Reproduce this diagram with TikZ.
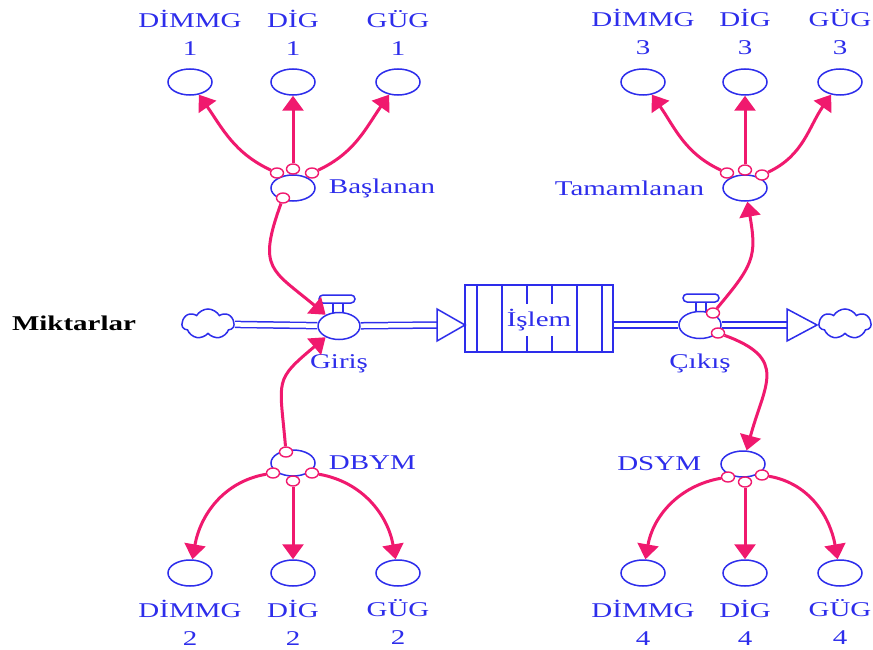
\documentclass[tikz,border=0pt]{standalone}
\usepackage{fontspec}
\setmainfont{Liberation Serif}[FakeStretch=1.38]
\usepackage{tikz}
\usetikzlibrary{arrows.meta}
\usetikzlibrary{positioning}
\usetikzlibrary{shapes.geometric}
\usetikzlibrary{shapes.symbols}

\definecolor{vblue}{RGB}{45,45,235}
\definecolor{vpink}{RGB}{240,25,110}

\tikzset{
  aux/.style={ellipse, draw=vblue, line width=1.5pt, minimum width=44pt, minimum height=26pt, inner sep=0pt},
  hook/.style={ellipse, draw=vpink, fill=white, line width=1.4pt, minimum width=13pt, minimum height=10pt, inner sep=0pt},
  lbl/.style={text=vblue, font=\fontsize{21}{28}\selectfont, inner sep=1pt, align=center},
  link/.style={draw=vpink, line width=3pt, -{Triangle[length=15pt,width=21pt]}},
  pipe/.style={draw=vblue, line width=1.5pt, double=white, double distance=4.5pt},
  flowtip/.style={draw=vblue, fill=white, line width=1.5pt},
  cloudy/.style={cloud, cloud puffs=7, cloud puff arc=120, aspect=1.7, draw=vblue, fill=white, line width=1.5pt, minimum width=52pt, minimum height=30pt, inner sep=0pt},
  valve/.style={ellipse, draw=vblue, fill=white, line width=1.5pt, minimum width=42pt, minimum height=27pt, inner sep=0pt},
  valvebar/.style={rectangle, rounded corners=4pt, draw=vblue, fill=white, line width=1.5pt, minimum width=36pt, minimum height=8pt, inner sep=0pt},
}

\begin{document}
\begin{tikzpicture}[x=1pt,y=1pt]
  \useasboundingbox (0,0) rectangle (873,-650);

  % stock and flow
  \node[lbl, font=\fontsize{21}{28}\selectfont\bfseries, text=black] (mik) at (74,-323) {Miktarlar};
  \node[cloudy] (cloudin) at (208,-324) {};
  \node[cloudy] (cloudout) at (845,-324) {};
  \node[draw=vblue, line width=1.6pt, minimum width=148pt, minimum height=67pt, inner sep=0pt] (stock) at (539,-318.5) {};
  \foreach \x in {477,502,527,552,577,602}
    \draw[vblue, line width=1.5pt] (\x,-285) -- (\x,-352);
  \node[lbl, fill=white, inner xsep=0pt, minimum height=32pt] (islem) at (539,-320) {İşlem};

  \coordinate (intip) at (437,-325);
  \coordinate (outtip) at (787,-325);
  \draw[vblue, line width=1.4pt] (333,-303) rectangle (343,-313);
  \draw[vblue, line width=1.4pt] (696,-302) rectangle (706,-312);
  \node[valve] (giris) at (339,-326) {};
  \node[valvebar] (girisbar) at (337,-299) {};
  \node[valve] (cikis) at (700,-325) {};
  \node[valvebar] (cikisbar) at (701,-298) {};
  \draw[pipe] (cloudin) -- (giris);
  \draw[pipe] (giris) -- (intip);
  \draw[flowtip] (intip) -- ++(0,16) -- ++(28,-16) -- ++(-28,-16) -- cycle;
  \draw[pipe] (stock.east |- cikis) -- (cikis);
  \draw[pipe] (cikis) -- (outtip);
  \draw[flowtip] (outtip) -- ++(0,16) -- ++(30,-16) -- ++(-30,-16) -- cycle;
  \node[lbl, below=13pt of giris] (girisl) {Giriş};
  \node[lbl, below=13pt of cikis] (cikisl) {Çıkış};

  % auxiliaries
  \node[aux] (dimmg1) at (190,-82) {};
  \node[aux] (dig1) at (293,-82) {};
  \node[aux] (gug1) at (398,-82) {};
  \node[aux] (dimmg3) at (643,-82) {};
  \node[aux] (dig3) at (745,-82) {};
  \node[aux] (gug3) at (840,-82) {};
  \node[aux] (dimmg2) at (190,-573) {};
  \node[aux] (dig2) at (293,-573) {};
  \node[aux] (gug2) at (398,-573) {};
  \node[aux] (dimmg4) at (643,-573) {};
  \node[aux] (dig4) at (745,-573) {};
  \node[aux] (gug4) at (840,-573) {};
  \foreach \k in {1,3} {
    \node[lbl, above=12pt of dimmg\k] (dimmgl\k) {DİMMG\\\k};
    \node[lbl, above=12pt of dig\k] (digl\k) {DİG\\\k};
    \node[lbl, above=12pt of gug\k] (gugl\k) {GÜG\\\k};
  }
  \foreach \k in {2,4} {
    \node[lbl, below=12pt of dimmg\k] (dimmgl\k) {DİMMG\\\k};
    \node[lbl, below=12pt of dig\k] (digl\k) {DİG\\\k};
    \node[lbl, below=12pt of gug\k] (gugl\k) {GÜG\\\k};
  }

  \node[aux] (bas) at (293,-188) {};
  \node[aux] (tam) at (745,-188) {};
  \node[aux] (dbym) at (293,-463) {};
  \node[aux] (dsym) at (743,-464) {};
  \node[lbl, right=12pt of bas] (basl) {Başlanan};
  \node[lbl, left=17pt of tam] (taml) {Tamamlanan};
  \node[lbl, right=12pt of dbym] (dbyml) {DBYM};
  \node[lbl, left=18pt of dsym] (dsyml) {DSYM};

  % connector tails
  \node[hook] (bash1) at (277,-173) {};
  \node[hook] (bash2) at (293,-169) {};
  \node[hook] (bash3) at (312,-173) {};
  \node[hook] (bash4) at (283,-198) {};
  \node[hook] (dbh1) at (273,-473) {};
  \node[hook] (dbh2) at (293,-481) {};
  \node[hook] (dbh3) at (312,-473) {};
  \node[hook] (dbh4) at (286,-452) {};
  \node[hook] (tah1) at (727,-173) {};
  \node[hook] (tah2) at (745,-170) {};
  \node[hook] (tah3) at (762,-175) {};
  \node[hook] (dsh1) at (728,-477) {};
  \node[hook] (dsh2) at (745,-482) {};
  \node[hook] (dsh3) at (762,-475) {};
  \node[hook] (cikh1) at (713,-313) {};
  \node[hook] (cikh2) at (718,-333) {};

  % links
  \draw[link] (bash1) to[out=155,in=-55] (dimmg1);
  \draw[link] (bash2) -- (dig1);
  \draw[link] (bash3) to[out=25,in=-125] (gug1);
  \draw[link] (bash4) to[out=-110,in=140,looseness=1.5] (giris);
  \draw[link] (dbh1) to[out=190,in=80] (dimmg2);
  \draw[link] (dbh2) -- (dig2);
  \draw[link] (dbh3) to[out=-10,in=100] (gug2);
  \draw[link] (dbh4) to[out=95,in=-140,looseness=1.5] (giris);
  \draw[link] (tah1) to[out=155,in=-55] (dimmg3);
  \draw[link] (tah2) -- (dig3);
  \draw[link] (tah3) to[out=25,in=-125] (gug3);
  \draw[link] (dsh1) to[out=190,in=80] (dimmg4);
  \draw[link] (dsh2) -- (dig4);
  \draw[link] (dsh3) to[out=-10,in=100] (gug4);
  \draw[link] (cikh1) to[out=50,in=-80,looseness=1.3] (tam);
  \draw[link] (cikh2) to[out=-20,in=75,looseness=1.5] (dsym);
\end{tikzpicture}
\end{document}
